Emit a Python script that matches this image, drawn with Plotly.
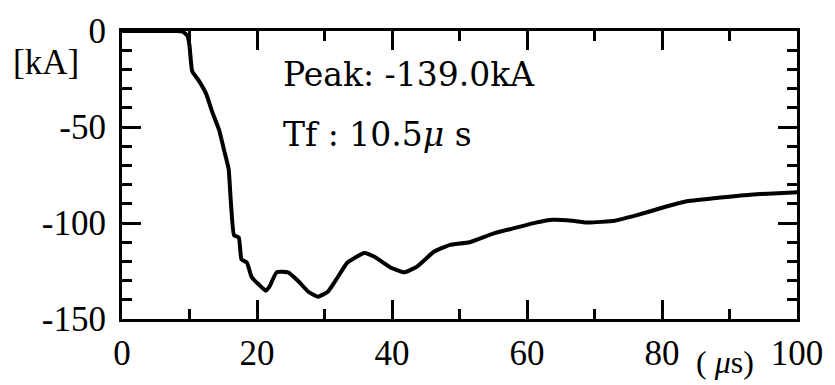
import plotly.graph_objects as go

# Time (microseconds) and current (kA)
time_us = [0, 2, 4, 6, 8, 9.0, 9.7, 10.0, 10.4, 11.4, 12.5, 13.3, 14.4, 15.1, 15.8,
           16.1, 16.6, 17.3, 17.7, 18.5, 19.2, 20.2, 21.3, 21.9, 22.9, 24.6, 26.1,
           27.6, 29.0, 30.5, 32.0, 33.4, 35.9, 37.4, 39.7, 41.8, 43.7, 46.2, 48.5,
           51.5, 55.0, 58.4, 61.3, 63.8, 66.7, 69.1, 73.0, 75.9, 79.9, 83.7, 88.7,
           93.5, 99.4, 100]
current_ka = [0, 0, 0, 0, 0, -0.3, -2.5, -7.6, -21, -26, -33, -41.5, -51.7, -61.8, -72,
              -87.7, -106.4, -107.5, -119, -120.6, -128.2, -131.8, -135.3, -132.8, -125.7,
              -125.7, -130.2, -135.8, -138.4, -135.8, -128, -120.6, -115.6, -117.6, -123,
              -125.7, -122.7, -115, -111.5, -110, -105.5, -102.4, -99.8, -98.3, -98.8,
              -99.8, -98.8, -96.3, -92.2, -88.7, -86.7, -85.1, -84.1, -84]

x_ticks = [0, 20, 40, 60, 80, 100]
y_ticks = [0, -50, -100, -150]

SERIF = "Liberation Serif"

fig = go.Figure()
fig.add_trace(go.Scatter(x=time_us, y=current_ka, mode="lines",
                         line=dict(color="black", width=4, shape="spline", smoothing=0.4),
                         showlegend=False, cliponaxis=False))

axis_common = dict(
    showgrid=False, zeroline=False, showline=True, linecolor="black", linewidth=3,
    mirror="allticks", ticks="inside", ticklen=19, tickwidth=3, tickcolor="black",
    tickfont=dict(family=SERIF, size=35, color="black"),
)

fig.update_xaxes(range=[0, 100], tickvals=x_ticks, ticktext=[str(v) for v in x_ticks],
                 minor=dict(dtick=10, ticks="inside", ticklen=10, tickwidth=2.5, tickcolor="black"),
                 ticklabelstandoff=1,
                 **axis_common)
fig.update_yaxes(range=[-150, 0], tickvals=y_ticks, ticktext=[str(v) for v in y_ticks],
                 minor=dict(dtick=10, ticks="inside", ticklen=10, tickwidth=2.5, tickcolor="black"),
                 ticklabelstandoff=6,
                 **axis_common)

fig.add_annotation(x=23.5, y=-22.8, xref="x", yref="y", text="Peak: -139.0kA",
                   showarrow=False, xanchor="left", yanchor="middle",
                   font=dict(family="DejaVu Serif", size=33, color="black"))
fig.add_annotation(x=23.5, y=-53.7, xref="x", yref="y", text="Tf : 10.5<i>μ</i> s",
                   showarrow=False, xanchor="left", yanchor="middle",
                   font=dict(family="DejaVu Serif", size=33, color="black"))
fig.add_annotation(x=-0.113, y=0.889, xref="paper", yref="paper", text="[kA]",
                   showarrow=False, xanchor="center", yanchor="middle",
                   font=dict(family=SERIF, size=35, color="black"))
fig.add_annotation(x=89.4, y=-0.15, xref="x", yref="paper", text="( <i>μ</i>s)",
                   showarrow=False, xanchor="center", yanchor="middle",
                   font=dict(family=SERIF, size=32, color="black"))

fig.update_layout(width=835, height=385, margin=dict(l=122, r=31, t=30, b=59),
                  paper_bgcolor="white", plot_bgcolor="white")

fig.write_html("out.html")
